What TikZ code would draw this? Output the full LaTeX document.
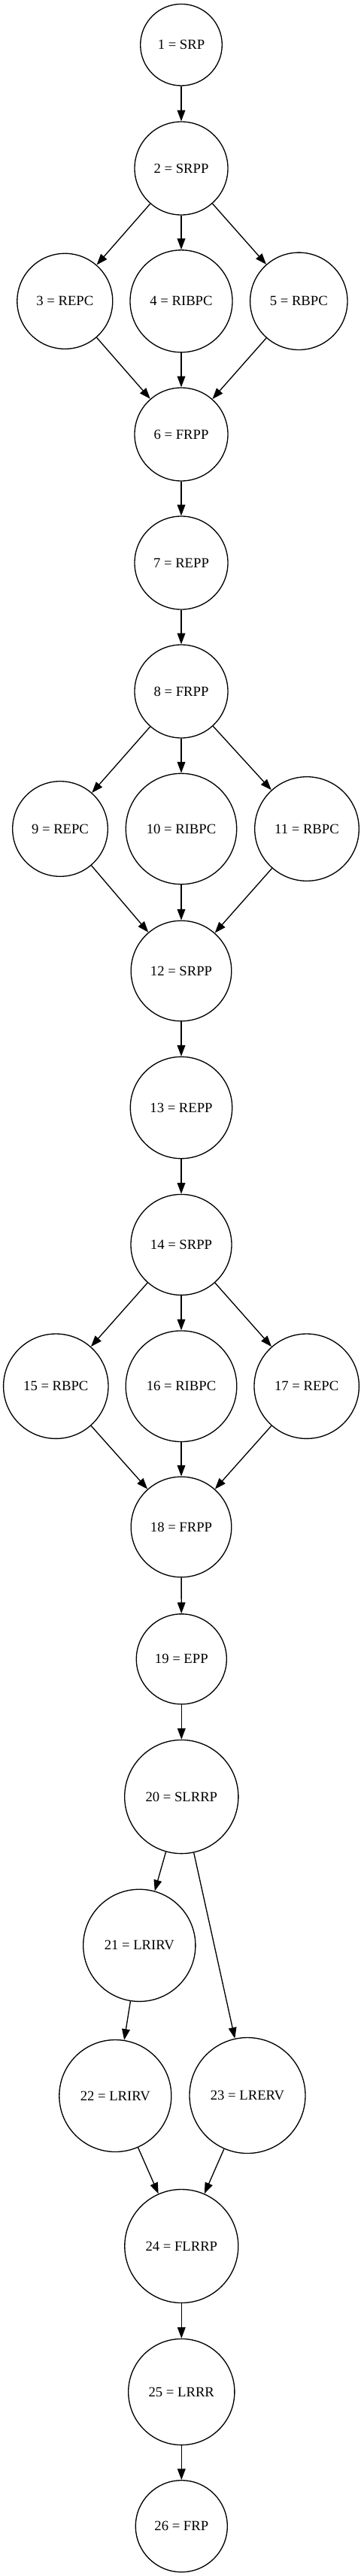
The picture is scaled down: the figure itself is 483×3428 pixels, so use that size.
\documentclass[tikz,border=0pt]{standalone}
\usepackage{fontspec}
\setmainfont{Liberation Serif}
\usetikzlibrary{arrows.meta}
\begin{document}
\begin{tikzpicture}[x=0.75pt,y=-0.75pt,
  st/.style={draw, circle, line width=1pt, inner sep=0pt, minimum size=#1*1.5pt, font=\fontsize{14}{16}\selectfont},
  edge/.style={line width=1pt, -{Triangle[length=11pt,width=8pt]}}]
\useasboundingbox (0,0) rectangle (483,3428);
\node[st=54.3] (n1) at (241,59.7) {1 = SRP};
\node[st=62] (n2) at (241,224) {2 = SRPP};
\node[st=63.5] (n3) at (86.3,400.8) {3 = REPC};
\node[st=68] (n4) at (241,400.8) {4 = RIBPC};
\node[st=64.7] (n5) at (397.3,400.8) {5 = RBPC};
\node[st=62] (n6) at (241,578) {6 = FRPP};
\node[st=62] (n7) at (241,749) {7 = REPP};
\node[st=62] (n8) at (241,920) {8 = FRPP};
\node[st=63.3] (n9) at (80,1103) {9 = REPC};
\node[st=73.7] (n10) at (241,1103) {10 = RIBPC};
\node[st=69.3] (n11) at (408,1103) {11 = RBPC};
\node[st=66.8] (n12) at (241,1292) {12 = SRPP};
\node[st=67.7] (n13) at (241,1474) {13 = REPP};
\node[st=67] (n14) at (241,1656.4) {14 = SRPP};
\node[st=69.7] (n15) at (74.3,1844.7) {15 = RBPC};
\node[st=73.8] (n16) at (241,1844.7) {16 = RIBPC};
\node[st=69.7] (n17) at (407.7,1844.7) {17 = REPC};
\node[st=66.8] (n18) at (241,2032) {18 = FRPP};
\node[st=60] (n19) at (241.3,2207.8) {19 = EPP};
\node[st=75.6] (n20) at (241.3,2391) {20 = SLRRP};
\node[st=74.6] (n21) at (185.3,2588.8) {21 = LRIRV};
\node[st=74.5] (n22) at (153.3,2789) {22 = LRIRV};
\node[st=77] (n23) at (329,2788.5) {23 = LRERV};
\node[st=75.5] (n24) at (241.3,2989) {24 = FLRRP};
\node[st=70.6] (n25) at (241.3,3183) {25 = LRRR};
\node[st=61] (n26) at (241.3,3361.7) {26 = FRP};
\draw[edge] (n1) -- (n2);
\draw[edge] (n2) -- (n3);
\draw[edge] (n2) -- (n4);
\draw[edge] (n2) -- (n5);
\draw[edge] (n3) -- (n6);
\draw[edge] (n4) -- (n6);
\draw[edge] (n5) -- (n6);
\draw[edge] (n6) -- (n7);
\draw[edge] (n7) -- (n8);
\draw[edge] (n8) -- (n9);
\draw[edge] (n8) -- (n10);
\draw[edge] (n8) -- (n11);
\draw[edge] (n9) -- (n12);
\draw[edge] (n10) -- (n12);
\draw[edge] (n11) -- (n12);
\draw[edge] (n12) -- (n13);
\draw[edge] (n13) -- (n14);
\draw[edge] (n14) -- (n15);
\draw[edge] (n14) -- (n16);
\draw[edge] (n14) -- (n17);
\draw[edge] (n15) -- (n18);
\draw[edge] (n16) -- (n18);
\draw[edge] (n17) -- (n18);
\draw[edge] (n18) -- (n19);
\draw[edge] (n19) -- (n20);
\draw[edge] (n20) -- (n21);
\draw[edge] (n20) -- (n23);
\draw[edge] (n21) -- (n22);
\draw[edge] (n22) -- (n24);
\draw[edge] (n23) -- (n24);
\draw[edge] (n24) -- (n25);
\draw[edge] (n25) -- (n26);
\end{tikzpicture}
\end{document}
